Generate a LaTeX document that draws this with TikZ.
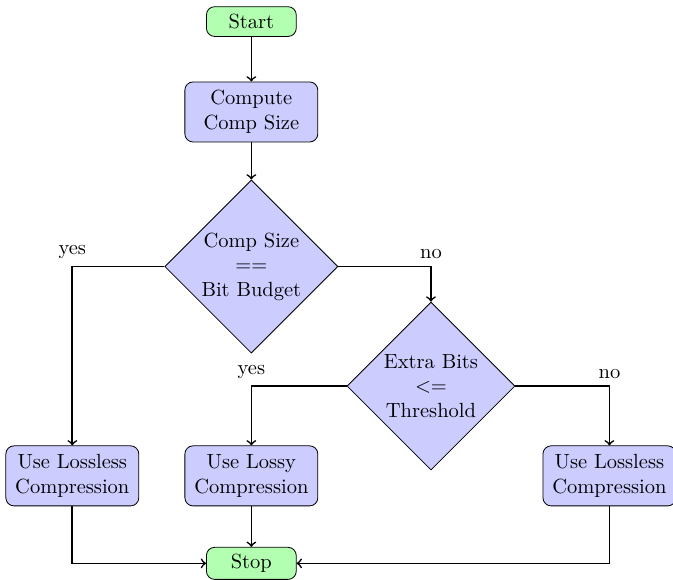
\documentclass[tikz,border=0pt]{standalone}
\usetikzlibrary{shapes.geometric}
\tikzset{
    startstop/.style={rectangle, rounded corners, draw, fill=green!30, minimum width=1.54cm, minimum height=0.51cm},
    process/.style={rectangle, rounded corners, draw, fill=blue!20, minimum width=2.28cm, minimum height=1.03cm, align=center},
    decision/.style={diamond, draw, fill=blue!20, aspect=1, inner sep=0pt, align=center},
    arrow/.style={thick, ->}
}
\begin{document}
\begin{tikzpicture}
    \useasboundingbox (0,0) rectangle (11.54,9.94);
    \node[startstop] (start) at (4.31, 9.57) {Start};
    \node[process] (compute) at (4.31, 8.02) {Compute\\Comp Size};
    \node[decision, minimum width=2.97cm, minimum height=2.97cm] (check) at (4.31, 5.37) {Comp Size\\$==$\\Bit Budget};
    \node[decision, minimum width=2.88cm, minimum height=2.88cm] (extra) at (7.39, 3.32) {Extra Bits\\$<=$\\Threshold};
    \node[process] (lossless1) at (1.24, 1.78) {Use Lossless\\Compression};
    \node[process] (lossy) at (4.31, 1.78) {Use Lossy\\Compression};
    \node[process] (lossless2) at (10.45, 1.78) {Use Lossless\\Compression};
    \node[startstop] (stop) at (4.31, 0.28) {Stop};
    % arrows
    \draw[arrow] (start) -- (compute);
    \draw[arrow] (compute) -- (check);
    \draw[arrow] (check.west) -| node[pos=0.5, above] {yes} (lossless1.north);
    \draw[arrow] (check.east) -| node[pos=0.5, above] {no} (extra.north);
    \draw[arrow] (extra.west) -| node[pos=0.5, above] {yes} (lossy.north);
    \draw[arrow] (extra.east) -| node[pos=0.5, above] {no} (lossless2.north);
    \draw[arrow] (lossless1.south) |- (stop.west);
    \draw[arrow] (lossy) -- (stop);
    \draw[arrow] (lossless2.south) |- (stop.east);
\end{tikzpicture}
\end{document}
